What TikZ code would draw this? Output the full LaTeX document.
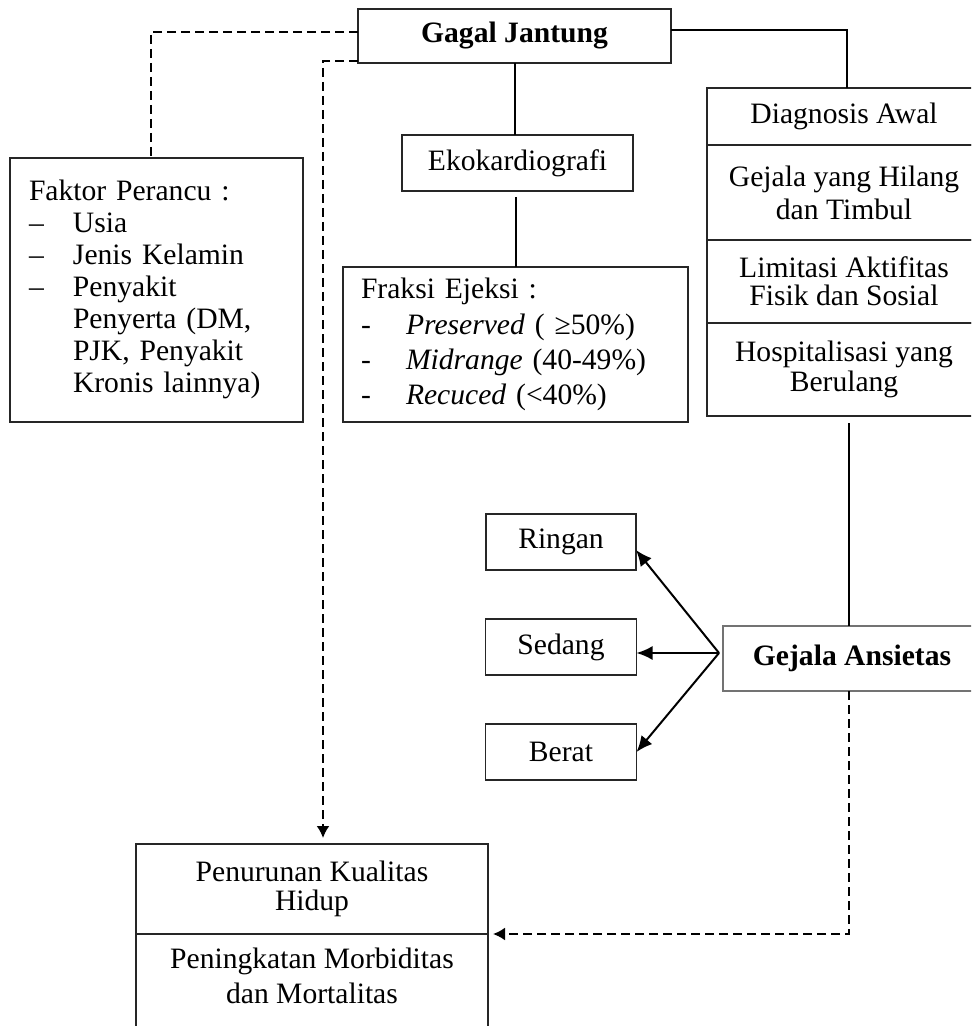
\documentclass[tikz,border=0pt]{standalone}
\usepackage{fontspec}
\setmainfont{Liberation Serif}
\usetikzlibrary{positioning,calc}
\usetikzlibrary{arrows.meta}
\newcommand{\px}{0.5pt}
\newcommand{\fsz}[1]{\fontsize{14.8}{#1}\selectfont}
\tikzstyle{arrow} = [line width=1pt,->,>={Latex[length=8pt,width=7pt]}]
\tikzstyle{dasharrow} = [line width=1pt,dash pattern=on 4.5pt off 2.5pt,->,>={Latex[length=6pt,width=6.5pt]}]

\begin{document}
\begin{tikzpicture}[x=\px, y=-\px,
	box/.style={draw=black!85, line width=0.7pt, align=center, inner sep=0pt, outer sep=0pt, font=\fsz{16}},
	boldbox/.style={box, font=\fsz{16}\bfseries},
	line/.style={line width=1pt},
	dashline/.style={line width=1pt, dash pattern=on 4.5pt off 2.5pt}]
	\useasboundingbox (0,0) rectangle (971,1026);
	\clip (0,0) rectangle (971,1026);
	
	% BOXES
	
	\node [boldbox, minimum width=313*\px, minimum height=54*\px] (gagal) at (514.5,36) {Gagal Jantung};
	
	\node [box, minimum width=231*\px, minimum height=56*\px] (eko) at (517.5,163) {Ekokardiografi};
	
	\node [box, align=left, text width=309*\px, inner xsep=18*\px, minimum height=155*\px, font=\fsz{17.5}] (fraksi) at (515.5,344.5)
	{\begin{tabular}{@{}p{22.5pt}@{}l@{}}
		\multicolumn{2}{@{}l@{}}{Fraksi Ejeksi :}\\
		- & \textit{Preserved} ( ≥50\%)\\
		- & \textit{Midrange} (40-49\%)\\
		- & \textit{Recuced} (<40\%)
	\end{tabular}};
	
	\node [box, align=left, text width=255*\px, inner xsep=19*\px, minimum height=264*\px, font=\fsz{16}] (faktor) at (156.5,290)
	{\begin{tabular}{@{}p{22pt}@{}l@{}}
		\multicolumn{2}{@{}l@{}}{Faktor Perancu :}\\
		-- & Usia\\
		-- & Jenis Kelamin\\
		-- & Penyakit\\
		& Penyerta (DM,\\
		& PJK, Penyakit\\
		& Kronis lainnya)
	\end{tabular}};
	
	\node [box, minimum width=274*\px, minimum height=57*\px] (diag) at (844,116.5) {Diagnosis Awal};
	\node [box, minimum width=274*\px, minimum height=95*\px, font=\fsz{16.5}, below=0pt of diag] (hilang) {Gejala yang Hilang\\dan Timbul};
	\node [box, minimum width=274*\px, minimum height=83*\px, font=\fsz{14}, below=0pt of hilang] (limitasi) {Limitasi Aktifitas\\Fisik dan Sosial};
	\node [box, minimum width=274*\px, minimum height=93*\px, font=\fsz{15}, below=0pt of limitasi] (rawat) {Hospitalisasi yang\\Berulang};
	
	\node [boldbox, draw=black!55, minimum width=258*\px, minimum height=65*\px] (ansietas) at (852,658.5) {Gejala Ansietas};
	
	\node [box, minimum width=150*\px, minimum height=56*\px] (ringan) at (561,542) {Ringan};
	\node [box, minimum width=151*\px, minimum height=56*\px, below=24.5pt of ringan] (sedang) {Sedang};
	\node [box, minimum width=151*\px, minimum height=56*\px, below=24.5pt of sedang] (berat) {Berat};
	
	\node [box, minimum width=352*\px, minimum height=90*\px, font=\fsz{14.5}] (kualitas) at (312,889) {Penurunan Kualitas\\Hidup};
	\node [box, minimum width=352*\px, inner ysep=6.75pt, font=\fsz{17.5}, below=0pt of kualitas] (morbiditas) {Peningkatan Morbiditas\\dan Mortalitas\\\mbox{}};
	
	% CONNECTORS
	
	\draw [dashline] ([yshift=2pt]gagal.west) -| ([xshift=-2.75pt]faktor.north);
	\draw [dasharrow, shorten >=3pt] ([yshift=1pt]gagal.south west) -| ([xshift=5.5pt]kualitas.north);
	\draw [line] ([yshift=3pt]gagal.east) -| ([xshift=1.5pt]diag.north);
	\draw [line] (gagal.south) -- (gagal.south |- eko.north);
	\draw [line, shorten <=3pt] (fraksi.north |- eko.south) -- (fraksi.north);
	
	\coordinate (anstop) at ([xshift=-1.5pt]ansietas.north);
	\draw [line, shorten <=3.5pt] (rawat.south -| anstop) -- (anstop);
	\draw [dasharrow, shorten >=2.5pt] ([xshift=-1.5pt]ansietas.south) |- (kualitas.south east);
	
	\coordinate (fork) at ($(ansietas.west)+(-4,-5.5)$);
	\draw [arrow] (fork) -- ([yshift=-4pt]ringan.east);
	\draw [arrow] (fork) -- ([yshift=-3pt]sedang.east);
	\draw [arrow] (fork) -- (berat.east);
	
\end{tikzpicture}
\end{document}
